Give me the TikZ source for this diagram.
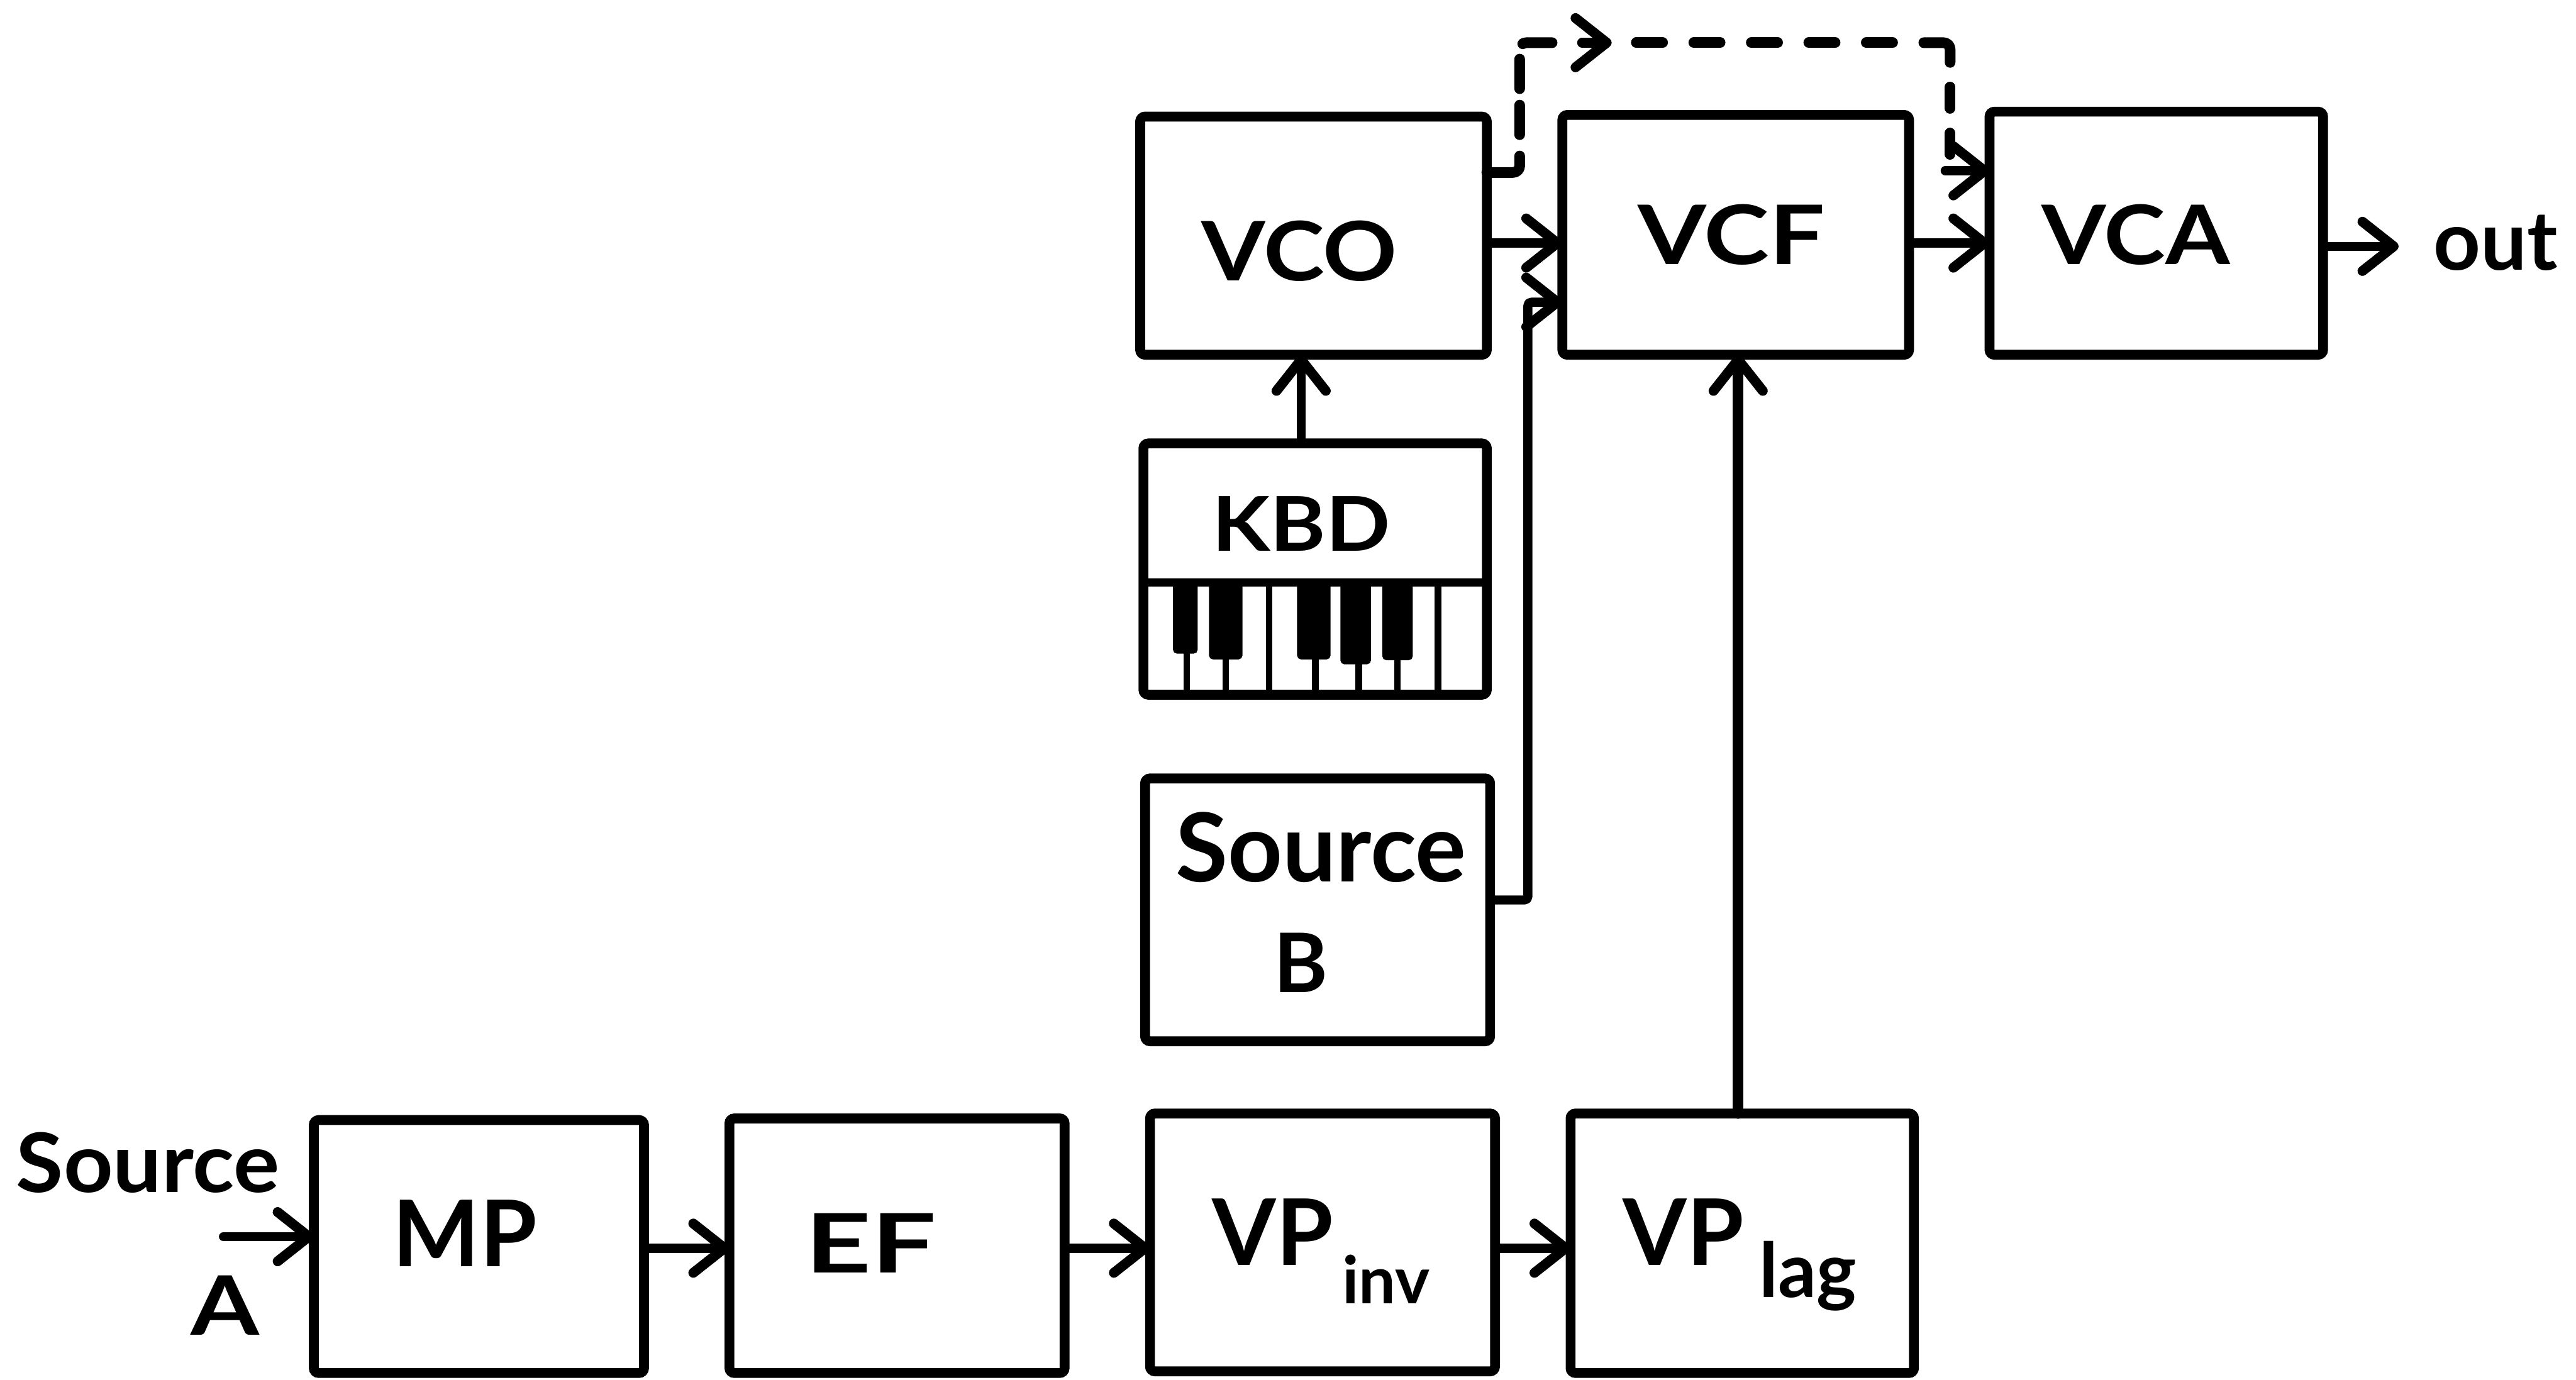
\documentclass[tikz,border=0pt]{standalone}
\usepackage{fontspec}
\setmainfont{Lato}
\usetikzlibrary{arrows.meta}
\tikzset{
  blockbox/.style={draw=black,line width=6pt,rounded corners=3pt,inner sep=0pt,outer sep=0pt},
  txt/.style={inner sep=0pt,outer sep=0pt,font=\fontsize{50}{56}\selectfont\bfseries},
  subtxt/.style={inner sep=0pt,outer sep=0pt,font=\fontsize{40}{44}\selectfont\bfseries},
  headtip/.style={-{Straight Barb[length=19pt,width=30pt,line width=6pt,round]}},
  conn/.style={draw=black,line width=5.5pt,line cap=round,line join=round,rounded corners=2pt,headtip},
  dashconn/.style={draw=black,line width=6.5pt,line cap=round,line join=round,rounded corners=4pt},
  keyline/.style={draw=black,line width=4pt},
  blackkey/.style={fill=black,draw=black,line width=1pt,rounded corners=2pt}
}
\begin{document}
\begin{tikzpicture}[x=1pt,y=-1pt]
\useasboundingbox[fill=white] (0,0) rectangle (1568,840);
% blocks
\node[blockbox,minimum width=211pt,minimum height=145pt] (vco) at (799.5,143.5) {};
\node[blockbox,minimum width=211pt,minimum height=146pt] (vcf) at (1056.5,143) {};
\node[blockbox,minimum width=203pt,minimum height=148pt] (vca) at (1312.5,142) {};
\node[blockbox,minimum width=209pt,minimum height=153pt] (kbd) at (800.5,346.5) {};
\node[blockbox,minimum width=210pt,minimum height=160pt] (srcb) at (802,554) {};
\node[blockbox,minimum width=201pt,minimum height=154pt] (mp) at (291.5,759) {};
\node[blockbox,minimum width=204pt,minimum height=155pt] (ef) at (546,758.5) {};
\node[blockbox,minimum width=210pt,minimum height=157pt] (vpinv) at (805,756.5) {};
\node[blockbox,minimum width=209pt,minimum height=158pt] (vplag) at (1060.5,757) {};
% keyboard
\draw[keyline,line width=5pt] (696,354.5) -- (905,354.5);
\foreach \xa/\xb/\yy in {714.5/728.5/397.5,736.4/755.8/401,790/809.4/401,816.4/834/404,841.9/859.4/401.5}{
  \fill[blackkey] (\xa,354) rectangle (\xb,\yy);
}
\foreach \xx/\yy in {722.4/397,746/400,800.6/400,827/403,850.7/400}{
  \draw[keyline] (\xx,\yy) -- (\xx,423);
}
\foreach \xx in {772.4,875.3}{
  \draw[keyline] (\xx,354) -- (\xx,423);
}
% labels
\node[txt] (tvco) at (791,153) {\scalebox{1.12}[1]{VCO}};
\node[txt] (tvcf) at (1054,143) {\scalebox{1.2}[1]{VCF}};
\node[txt] (tvca) at (1300,143) {\scalebox{1.13}[1]{VCA}};
\node[txt,font=\fontsize{46}{52}\selectfont\bfseries] (tkbd) at (792,319) {\scalebox{1.12}[1]{KBD}};
\node[txt,font=\fontsize{58}{64}\selectfont\bfseries] (tsb1) at (804,516) {Source};
\node[txt] (tsb2) at (792,586) {B};
\node[txt,font=\fontsize{56}{60}\selectfont\bfseries] (tmp) at (283,751) {MP};
\node[txt,font=\fontsize{50}{60}\selectfont\bfseries] (tef) at (530,757) {\scalebox{1.4}[1]{EF}};
\node[txt,font=\fontsize{56}{64}\selectfont\bfseries,anchor=west] (tvp1) at (738,750) {VP};
\node[subtxt,anchor=west] (tinv) at (817,779) {inv};
\node[txt,font=\fontsize{56}{64}\selectfont\bfseries,anchor=west] (tvp2) at (988,750) {VP};
\node[subtxt,font=\fontsize{46}{50}\selectfont\bfseries,anchor=west] (tlag) at (1071,777) {lag};
\node[txt,font=\fontsize{50}{56}\selectfont\bfseries] (tsa1) at (90,708) {\scalebox{1.05}[1]{Source}};
\node[txt] (tsa2) at (137,795) {\scalebox{1.2}[1]{A}};
\node[txt,font=\fontsize{50}{56}\selectfont\bfseries] (tout) at (1519,148) {out};
% connector rows
\coordinate (rowa) at (0,148);
\coordinate (rowb) at (0,184);
\coordinate (rowd) at (0,105);
\coordinate (rowe) at (0,548);
\coordinate (rowf) at (0,26);
\coordinate (rowg) at (0,760);
\coordinate (colb) at (930,0);
\coordinate (cold) at (925,0);
\coordinate (cole) at (1187,0);
\coordinate (colm) at (981,0);
\coordinate (colv) at (792,0);
\coordinate (colx) at (1058,0);
% connectors
\draw[conn] (vco.east |- rowa) -- (vcf.west |- rowa);
\draw[conn] (vcf.east |- rowa) -- (vca.west |- rowa);
\coordinate (outend) at (1460,150);
\draw[conn] (vca.east |- outend) -- (outend);
\draw[conn] (kbd.north -| colv) -- (vco.south -| colv);
\draw[conn] (srcb.east |- rowe) -- (colb |- rowe) -- (colb |- rowb) -- (vcf.west |- rowb);
\draw[conn,line width=6.5pt] (vplag.north -| colx) -- (vcf.south -| colx);
\coordinate (sastart) at (136,753);
\draw[conn] (sastart) -- (mp.west |- sastart);
\draw[conn] (mp.east |- rowg) -- (ef.west |- rowg);
\draw[conn] (ef.east |- rowg) -- (vpinv.west |- rowg);
\draw[conn] (vpinv.east |- rowg) -- (vplag.west |- rowg);
% dashed route, piece by piece
\coordinate (da) at (925,95);
\coordinate (db) at (925,82);
\coordinate (dc) at (947,26);
\coordinate (dd) at (963,26);
\coordinate (de) at (996,26);
\coordinate (df) at (1152,26);
\coordinate (dg) at (1171,26);
\coordinate (dh) at (1187,38);
\coordinate (di) at (1187,53);
\coordinate (dj) at (1187,95);
\coordinate (vcain) at (1184,104);
\draw[dashconn] (vco.east |- rowd) -- (cold |- rowd) -- (da);
\draw[dashconn,dash pattern=on 18pt off 10pt] (db) -- (cold |- rowf) -- (dc);
\draw[draw=black,line width=6pt,line cap=round,headtip] (dd) -- (colm |- rowf);
\draw[dashconn,dash pattern=on 16pt off 19pt] (de) -- (df);
\draw[dashconn] (dg) -- (cole |- rowf) -- (dh);
\draw[dashconn,dash pattern=on 13pt off 15pt] (di) -- (dj);
\draw[conn] (vcain) -- (vca.west |- vcain);
\end{tikzpicture}
\end{document}
